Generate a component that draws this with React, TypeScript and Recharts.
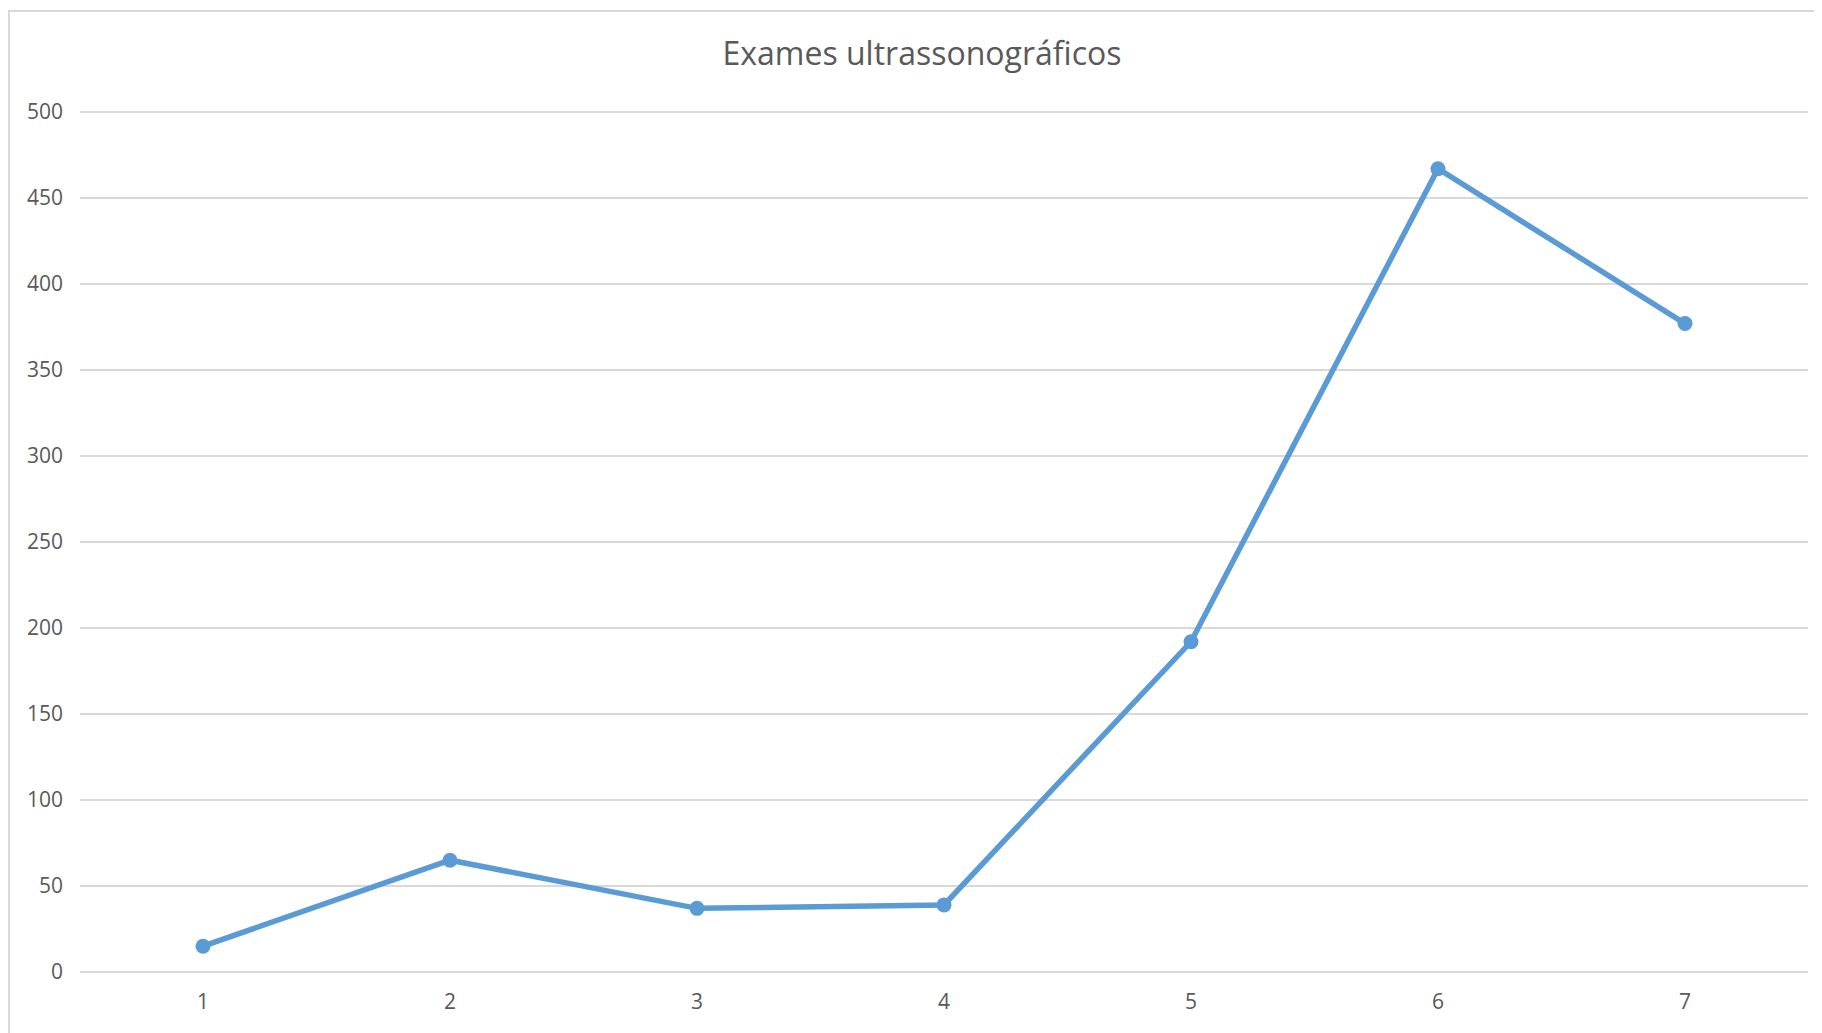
import { CartesianGrid, Line, LineChart, XAxis, YAxis } from 'recharts';

const categories = ['1', '2', '3', '4', '5', '6', '7'];
const exames = [15, 65, 37, 39, 192, 467, 377];
const yTicks = [0, 50, 100, 150, 200, 250, 300, 350, 400, 450, 500];

const data = categories.map((name, i) => ({ name, exames: exames[i] }));

const font = '"Open Sans", "Noto Sans", sans-serif';
const textColor = '#595959';
const gridColor = '#d9d9d9';

export default function App() {
  return (
    <div style={{ position: 'relative', width: 1814, height: 1025, fontFamily: font }}>
      <div
        style={{
          position: 'absolute',
          left: 0,
          top: 2,
          width: 1814,
          height: 1023,
          borderLeft: `2px solid ${gridColor}`,
          borderTop: `2px solid ${gridColor}`,
          boxSizing: 'border-box',
        }}
      />
      <div
        style={{
          position: 'absolute',
          left: 0,
          width: 1828,
          top: 27,
          textAlign: 'center',
          fontSize: 32,
          color: textColor,
          lineHeight: '36px',
        }}
      >
        Exames ultrassonográficos
      </div>
      <LineChart width={1814} height={1025} data={data} margin={{ top: 104, right: 14, bottom: 0, left: 0 }}>
        <CartesianGrid horizontal vertical={false} stroke={gridColor} strokeWidth={2} />
        <XAxis
          dataKey="name"
          axisLine={false}
          tickLine={false}
          tickSize={0}
          tickMargin={22}
          height={61}
          padding={{ left: 123, right: 123 }}
          tick={{ fill: textColor, fontSize: 21, fontFamily: font }}
        />
        <YAxis
          domain={[0, 500]}
          ticks={yTicks}
          axisLine={false}
          tickLine={false}
          tickSize={0}
          tickMargin={17}
          width={72}
          tick={{ fill: textColor, fontSize: 21, fontFamily: font }}
        />
        <Line
          type="linear"
          dataKey="exames"
          stroke="#5b9bd5"
          strokeWidth={5.5}
          dot={{ r: 7.5, fill: '#5b9bd5', stroke: '#5b9bd5', strokeWidth: 0 }}
          isAnimationActive={false}
        />
      </LineChart>
    </div>
  );
}
